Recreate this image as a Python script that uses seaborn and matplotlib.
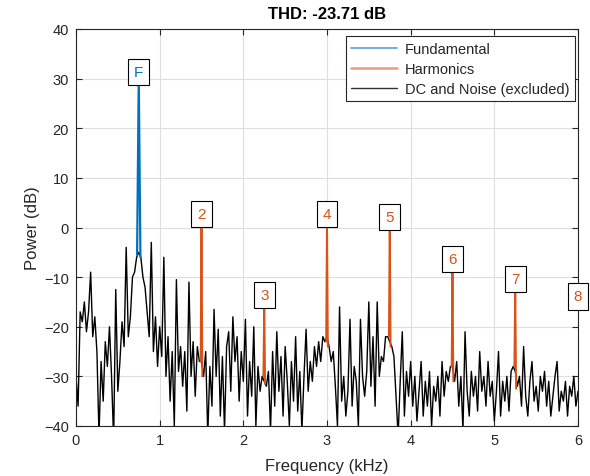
import numpy as np
import pandas as pd
import matplotlib
matplotlib.use("Agg")
import matplotlib.pyplot as plt
import seaborn as sns
from matplotlib.lines import Line2D

# ---------------- data ----------------
title = "THD: -23.71 dB"
# spectrum noise floor (dB), sampled every 0.025 kHz from 0 to 6 kHz
noise_db = [
    -30, -36, -17, -19, -15, -21, -17, -9, -22, -18,
    -25, -42, -27, -35, -23, -28, -20, -30, -43, -12.5,
    -33, -27, -19, -24, -4, -22, -18, -10, -9, -6,
    -5, -6, -10, -12, -17, -22, -3, -25, -18, -28,
    -20, -26, -6, -30, -22, -35, -25, -40, -10.5, -29,
    -24, -32, -25, -37, -11, -30, -23, -34, -24, -27,
    -27, -30, -25, -42, -28, -36, -16.5, -30, -20.5, -38,
    -26, -41, -24, -21, -33, -18, -27, -22, -35, -25,
    -31, -18.5, -38, -27, -34, -20, -40, -28, -33, -30,
    -31, -32, -29, -41, -25, -36, -21, -33, -26, -38,
    -24, -31, -40, -27, -35, -22, -37, -29, -41, -30,
    -20.5, -33, -27, -31, -24, -28, -23, -27, -22, -23,
    -22, -24, -27, -25, -32, -40, -16, -35, -30, -38,
    -33, -18.5, -36, -28, -31, -40, -18.5, -30, -34, -29,
    -15, -32, -22, -36, -15, -30, -26, -27, -22, -22,
    -23, -24, -26, -34, -42, -31, -21, -38, -29, -34,
    -27, -36, -30, -39, -33, -27, -38, -31, -36, -29,
    -40, -32, -35, -30, -38, -27, -34, -29, -31, -28,
    -28, -31, -27, -36, -30, -41, -21, -33, -38, -29,
    -34, -30, -37, -25, -33, -30, -36, -27, -34, -31,
    -39, -33, -25, -38, -31, -35, -30, -37, -29, -28,
    -29, -32, -30, -36, -24, -34, -38, -31, -27, -35,
    -32, -37, -30, -33, -29, -36, -31, -38, -34, -30,
    -27, -37, -33, -35, -31, -38, -32, -34, -30, -36,
    -33,
]
freq_khz = np.linspace(0, 6, len(noise_db))

# fundamental peak (kHz, dB)
fund_freq = [0.73, 0.75, 0.77]
fund_db = [-5.5, 30.0, -6.0]

# harmonics: label, centre frequency, peak dB, left/right base dB
harm_labels = ["2", "3", "4", "5", "6", "7", "8"]
harm_freq = [1.5, 2.25, 3.0, 3.75, 4.5, 5.25, 6.0]
harm_peak = [1.3, -15.0, 1.3, 0.7, -7.8, -11.8, -15.3]
harm_left = [-27, -30, -23, -22, -28, -28, -33]
harm_right = [-30, -31.5, -24, -24, -31, -32.5, -33]
harm_halfwidth = 0.01

# ---------------- style ----------------
sns.set_theme(style="ticks")
plt.rcParams["font.family"] = ["Liberation Sans", "DejaVu Sans"]
axis_col = "#262626"
blue = "#0072BD"
orange = "#D95319"

fig = plt.figure(figsize=(5.9, 4.77), dpi=100)
ax = fig.add_axes([76 / 590, 1 - 427 / 477, (578 - 76) / 590, (427 - 30) / 477])

df = pd.DataFrame({"Frequency (kHz)": freq_khz, "Power (dB)": noise_db})
sns.lineplot(data=df, x="Frequency (kHz)", y="Power (dB)", color="black",
             lw=1.0, estimator=None, sort=False, ax=ax, zorder=2)

box = dict(boxstyle="square,pad=0.4", fc="white", ec="black", lw=0.8)

# fundamental
sns.lineplot(x=fund_freq, y=fund_db, color=blue, lw=1.6, estimator=None,
             sort=False, ax=ax, zorder=3)
ax.text(fund_freq[1], fund_db[1], "F", color=blue, fontsize=11,
        ha="center", va="bottom", zorder=5, bbox=box)

# harmonics
for lab, f, pk, l, r in zip(harm_labels, harm_freq, harm_peak, harm_left, harm_right):
    if f < 6.0:
        sns.lineplot(x=[f - harm_halfwidth, f, f + harm_halfwidth], y=[l, pk, r],
                     color=orange, lw=1.4, estimator=None, sort=False, ax=ax, zorder=3)
    ax.text(f, pk, lab, color=orange, fontsize=11, ha="center", va="bottom",
            zorder=5, clip_on=False, bbox=box)

ax.set_xlim(0, 6)
ax.set_ylim(-40, 40)
ax.set_xticks(range(0, 7))
ax.set_yticks(range(-40, 41, 10))
ax.grid(True, color="#dedede", lw=0.8)
ax.set_axisbelow(True)
for s in ax.spines.values():
    s.set_color(axis_col)
    s.set_linewidth(0.8)
ax.tick_params(direction="in", top=True, right=True, length=4, width=0.8,
               colors=axis_col, labelsize=10.5, labelcolor=axis_col, pad=5)
ax.set_xlabel("Frequency (kHz)", fontsize=12, color=axis_col, labelpad=8)
ax.set_ylabel("Power (dB)", fontsize=12, color=axis_col, labelpad=3)
ax.set_title(title, fontsize=12, fontweight="bold", color="black", pad=8)

handles = [Line2D([], [], color="#5A9FD6", lw=1.2),
           Line2D([], [], color="#EE9B7A", lw=1.8),
           Line2D([], [], color="#333333", lw=1.0)]
leg = ax.legend(handles, ["Fundamental", "Harmonics", "DC and Noise (excluded)"],
                loc="upper right", bbox_to_anchor=(0.994, 0.982), fontsize=10.5,
                frameon=True, fancybox=False, framealpha=1, edgecolor="#262626",
                handlelength=3.1, handletextpad=0.55, borderpad=0.4,
                labelspacing=0.4, borderaxespad=0.0)
leg.get_frame().set_linewidth(0.8)

fig.savefig("out.png", dpi=100)
